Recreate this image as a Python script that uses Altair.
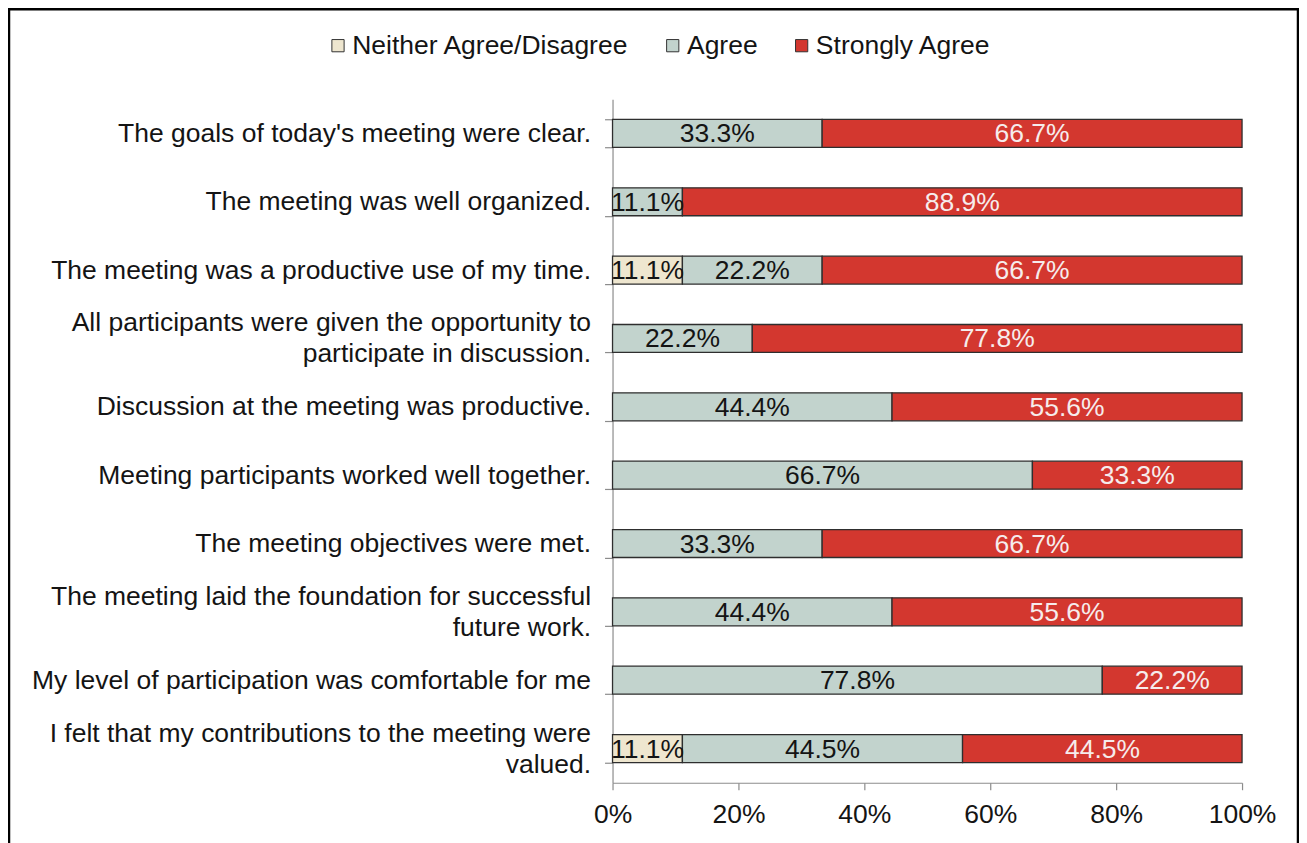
import altair as alt
import pandas as pd

questions = [
    "The goals of today's meeting were clear.",
    "The meeting was well organized.",
    "The meeting was a productive use of my time.",
    "All participants were given the opportunity to|participate in discussion.",
    "Discussion at the meeting was productive.",
    "Meeting participants worked well together.",
    "The meeting objectives were met.",
    "The meeting laid the foundation for successful|future work.",
    "My level of participation was comfortable for me",
    "I felt that my contributions to the meeting were|valued.",
]
neither = [0, 0, 11.1, 0, 0, 0, 0, 0, 0, 11.1]
agree = [33.3, 11.1, 22.2, 22.2, 44.4, 66.7, 33.3, 44.4, 77.8, 44.5]
strongly = [66.7, 88.9, 66.7, 77.8, 55.6, 33.3, 66.7, 55.6, 22.2, 44.5]
categories = ["Neither Agree/Disagree", "Agree", "Strongly Agree"]
colors = ["#EEE6CF", "#C2D3CD", "#D3372F"]
x_ticks = [0, 20, 40, 60, 80, 100]

rows = []
for q, n, a, s in zip(questions, neither, agree, strongly):
    for i, (c, v) in enumerate(zip(categories, [n, a, s])):
        if v > 0:
            rows.append({"question": q, "cat": c, "order": i, "value": v})
df = pd.DataFrame(rows)

FONT = "Liberation Sans"
FS = 26.5
TXT = "#141414"

base = alt.Chart(df).transform_stack(
    stack="value", groupby=["question"], as_=["start", "end"],
    sort=[alt.SortField("order", order="ascending")],
).transform_calculate(
    mid="(datum.start + datum.end) / 2",
    label="format(datum.value, '.1f') + '%'",
)

y_enc = alt.Y(
    "question:N", sort=questions, title=None,
    scale=alt.Scale(paddingInner=0.59, paddingOuter=0.295),
    axis=alt.Axis(
        labelExpr="split(datum.label, '|')", labelFontSize=FS, labelFont=FONT,
        labelColor=TXT, labelLineHeight=31, labelPadding=14, labelLimit=800,
        labelOffset={"condition": {"test": "indexof(datum.label, '|') >= 0", "value": -15.5}, "value": 0},
        tickBand="extent", tickSize=8, tickColor="#8C8C8C", domainColor="#8C8C8C",
        domainWidth=1.2, tickWidth=1.2,
    ),
)

bars = base.mark_bar(stroke="#2E2E2E", strokeWidth=1.3, size=28).encode(
    x=alt.X(
        "start:Q", title=None,
        scale=alt.Scale(domain=[0, 100], clamp=True, nice=False),
        axis=alt.Axis(
            values=x_ticks, labelExpr="datum.value + '%'",
            labelFontSize=FS, labelFont=FONT, labelColor=TXT, labelFlush=False,
            grid=False, tickSize=7, tickColor="#8C8C8C", domainColor="#8C8C8C",
            domainWidth=1.2, tickWidth=1.2, labelPadding=12,
        ),
    ),
    x2="end:Q",
    y=y_enc,
    color=alt.Color(
        "cat:N", scale=alt.Scale(domain=categories, range=colors), title=None,
        legend=alt.Legend(
            orient="none", direction="horizontal", legendX=-288, legendY=-67,
            symbolType="square", symbolSize=150, symbolStrokeColor="#333333",
            symbolStrokeWidth=1, labelFontSize=FS, labelFont=FONT,
            labelColor=TXT, columnPadding=30, symbolOffset=0, labelOffset=1,
            labelLimit=500,
        ),
    ),
    order=alt.Order("order:Q"),
)

texts = base.mark_text(fontSize=FS, font=FONT, baseline="middle", dy=1).encode(
    x=alt.X("mid:Q"),
    y=alt.Y("question:N", sort=questions),
    text="label:N",
    color=alt.condition(
        "datum.cat == 'Strongly Agree'", alt.value("#F6ECEC"), alt.value(TXT)
    ),
)

frame = alt.Chart(alt.Data(values=[{"a": 1}])).mark_rect(
    fillOpacity=0, stroke="black", strokeWidth=2.5
).encode(
    x=alt.value(-604), x2=alt.value(686), y=alt.value(-90), y2=alt.value(800)
)

chart = alt.layer(bars, texts, frame).properties(
    width=630, height=684,
    autosize=alt.AutoSizeParams(type="none"),
    padding={"left": 605, "top": 91, "right": 57, "bottom": 75},
    background="white",
).configure_view(stroke=None)

chart.save("out.html", embed_options={"renderer": "svg", "actions": False})
